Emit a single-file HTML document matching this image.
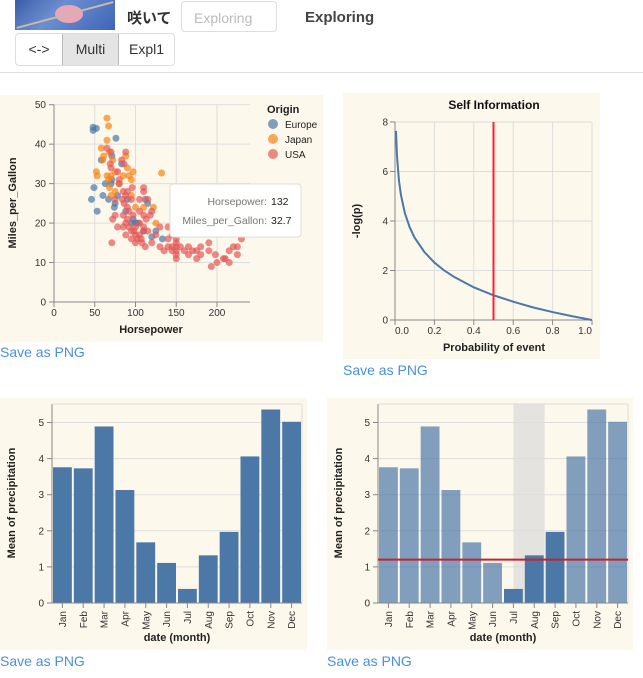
<!DOCTYPE html>
<html><head><meta charset="utf-8">
<style>
body{margin:0;width:643px;height:678px;overflow:hidden;background:#fff;font-family:"Liberation Sans","Noto Sans CJK JP",sans-serif;position:relative}
.abs{position:absolute}
.link{color:#4a90d9;font-size:14px}
svg text{font-family:"Liberation Sans",sans-serif}
</style></head><body>
<div class="abs" style="left:15px;top:0;width:100px;height:30px;background:linear-gradient(135deg,#3a5ca8,#6d8fd0 40%,#3f63b8);overflow:hidden">
<div style="position:absolute;left:40px;top:5px;width:28px;height:18px;border-radius:50%;background:#e8a6b8"></div>
<div style="position:absolute;left:0;top:14px;width:100px;height:2px;background:#c9b9a8;transform:rotate(-15deg)"></div></div>
<div class="abs" style="left:127px;top:7px;font-size:15px;font-weight:bold;color:#333">咲いて</div>
<div class="abs" style="left:181px;top:1px;width:96px;height:31px;border:1px solid #ddd;border-radius:4px;box-sizing:border-box;color:#bbb;font-size:14px;padding:8px 12px">Exploring</div>
<div class="abs" style="left:305px;top:9px;font-size:15px;font-weight:bold;color:#444">Exploring</div>
<div class="abs" style="left:15px;top:33px;width:160px;height:33px;border:1px solid #ddd;border-radius:4px;box-sizing:border-box;display:flex;font-size:14px;color:#333;overflow:hidden">
<div style="width:46px;text-align:center;line-height:31px">&lt;-&gt;</div>
<div style="width:55px;text-align:center;line-height:31px;background:#e4e4e4;border-left:1px solid #bbb;border-right:1px solid #bbb">Multi</div>
<div style="flex:1;text-align:center;line-height:31px">Expl1</div></div>
<div class="abs" style="left:0;top:72px;width:643px;height:1px;background:#ddd"></div>

<div class="abs link" style="left:0;top:344px">Save as PNG</div>
<div class="abs link" style="left:343px;top:362px">Save as PNG</div>
<div class="abs link" style="left:0;top:653px">Save as PNG</div>
<div class="abs link" style="left:327px;top:653px">Save as PNG</div>

<svg id="s" class="abs" style="left:0;top:0" width="643" height="678"></svg>
<script>
// ---- scatter data ----
const europe=[[46,26],[48,43.5],[48,44.3],[49,29],[52,44],[53,23],[58,36],[60,27],[67,26],[70,30],[71,31],[74,24],[76,41.5],[78,27],[83,35],[88,23],[90,26],[95,20],[97,21],[100,20],[103,20],[110,18],[112,26],[115,25],[120,16.5],[125,18],[133,16],[71,37],[63,30],[75,25]];
const japan=[[52,33],[53,32],[58,39],[60,36],[61,37],[65,46.6],[65,41],[67,44.6],[68,38],[70,32],[72,36],[75,33],[67,31],[68,29],[70,27],[88,37],[90,34],[92,32],[95,31],[97,33],[100,24],[110,24],[122,24],[132,32.7],[125,20],[85,32],[65,32],[75,28],[80,30],[95,27]];
const usa=[[65,39],[69,35],[70,34],[71,15],[72,21],[75,22],[78,19],[80,30],[85,28],[85,22],[88,20],[88,17],[90,28],[90,24],[92,19],[95,26],[95,18],[97,22],[100,17],[100,19],[100,15],[105,17],[105,20],[105,23],[107,16],[110,18],[110,19],[110,22],[112,14],[113,21],[115,18],[120,15],[125,17],[130,14],[130,19],[135,13],[140,14],[140,16],[145,13],[145,14],[145,17],[150,12],[150,13],[150,14],[150,15],[150,16],[150,11],[155,14],[160,13],[165,14],[165,12],[170,13],[175,13],[175,11],[180,12],[180,14],[190,13],[190,15],[193,9],[198,12],[200,10],[208,11],[210,11],[215,10],[215,13],[220,14],[225,12],[225,14],[230,16],[88,27],[96,29],[80,31],[84,26],[86,25],[75,26],[92,23],[98,18],[102,16],[108,15],[115,26],[118,22],[140,19],[85,19],[95,16],[90,21],[83,36],[86,35],[88,38],[70,38],[78,33],[110,28],[120,23],[110,29],[105,26]];
const hpTicks=[0,50,100,150,200];
const mpgTicks=[0,10,20,30,40,50];
// ---- self information ----
const probs=[0.005,0.01,0.02,0.03,0.05,0.075,0.1,0.15,0.2,0.25,0.3,0.4,0.5,0.6,0.7,0.8,0.9,1.0];
const info=[7.64,6.64,5.64,5.06,4.32,3.74,3.32,2.74,2.32,2,1.74,1.32,1,0.74,0.51,0.32,0.15,0];
const pTicks=[0,0.2,0.4,0.6,0.8,1.0];
const infoTicks=[0,2,4,6,8];
const markerP=0.5;
// ---- precipitation ----
const months=["Jan","Feb","Mar","Apr","May","Jun","Jul","Aug","Sep","Oct","Nov","Dec"];
const precip=[3.76,3.73,4.89,3.13,1.68,1.11,0.39,1.32,1.97,4.06,5.36,5.02];
const precipTicks=[0,1,2,3,4,5];
const selectedMonths=["Jul","Aug","Sep"];
const brushMonths=["Jul","Aug"];
const meanRule=1.2;

const NS="http://www.w3.org/2000/svg",S=document.getElementById('s');
function el(t,a,p){const e=document.createElementNS(NS,t);for(const k in a)e.setAttribute(k,a[k]);(p||S).appendChild(e);return e;}
function txt(s,a,p){const e=el('text',a,p);e.textContent=s;return e;}

// ===== scatter =====
const sx=v=>54+v*(217-54)/200, sy=v=>302-v*(302-104.7)/50;
let bg=el('rect',{x:0,y:95,width:323,height:247,fill:'#fdf8ec'});

mpgTicks.forEach(t=>{let l=el('line',{x1:54,x2:250,y1:sy(t),y2:sy(t),stroke:'#ddd'});

el('line',{x1:49,x2:54,y1:sy(t),y2:sy(t),stroke:'#888'});
let tl=txt(t,{x:46,y:sy(t)+3.5,'text-anchor':'end','font-size':10,fill:'#333'});
});
hpTicks.forEach(t=>{let l=el('line',{x1:sx(t),x2:sx(t),y1:104.7,y2:302,stroke:'#ddd'});

el('line',{x1:sx(t),x2:sx(t),y1:302,y2:307,stroke:'#888'});
let tl=txt(t,{x:sx(t),y:316,'text-anchor':'middle','font-size':10,fill:'#333'});
});
el('line',{x1:54,x2:54,y1:104.7,y2:302,stroke:'#888'});el('line',{x1:54,x2:250,y1:302,y2:302,stroke:'#888'});
[[europe,'#4c78a8'],[japan,'#f58518'],[usa,'#e45756']].forEach(([d,c])=>d.forEach(p=>{
let ci=el('circle',{cx:sx(p[0]),cy:sy(p[1]),r:3.5,fill:c,'fill-opacity':0.7});
}));
let t1=txt('Horsepower',{x:151,y:333,'text-anchor':'middle','font-size':11,'font-weight':'bold',fill:'#222'});

let t2=txt('Miles_per_Gallon',{x:0,y:0,transform:'translate(16,203) rotate(-90)','text-anchor':'middle','font-size':11,'font-weight':'bold',fill:'#222'});

let lt=txt('Origin',{x:267,y:113,'font-size':11,'font-weight':'bold',fill:'#222'});

[['Europe','#4c78a8'],['Japan','#f58518'],['USA','#e45756']].forEach((o,i)=>{
let c=el('circle',{cx:273,cy:124+i*15,r:5,fill:o[1],'fill-opacity':0.7});

let t=txt(o[0],{x:285,y:128+i*15,'font-size':10,fill:'#222'});
});
let tip=el('rect',{x:170,y:184,width:131,height:53,rx:3,fill:'#fff','fill-opacity':0.95,stroke:'#ddd'});

txt('Horsepower:',{x:267,y:205,'text-anchor':'end','font-size':10.5,fill:'#777'});
txt('132',{x:271,y:205,'font-size':10.5,fill:'#222'});
txt('Miles_per_Gallon:',{x:267,y:224,'text-anchor':'end','font-size':10.5,fill:'#777'});
txt('32.7',{x:271,y:224,'font-size':10.5,fill:'#222'});

// ===== self info =====
const px=v=>395+v*(592-395), py=v=>320-v*(320-122)/8;
bg=el('rect',{x:343,y:93,width:257,height:266,fill:'#fdf8ec'});

let st=txt('Self Information',{x:494,y:109,'text-anchor':'middle','font-size':12,'font-weight':'bold',fill:'#111'});

infoTicks.forEach(t=>{el('line',{x1:395,x2:592,y1:py(t),y2:py(t),stroke:'#ddd'});
el('line',{x1:390,x2:395,y1:py(t),y2:py(t),stroke:'#888'});
let tl=txt(t,{x:388,y:py(t)+3.5,'text-anchor':'end','font-size':10,fill:'#333'});
});
pTicks.forEach((t,i)=>{el('line',{x1:px(t),x2:px(t),y1:122,y2:320,stroke:'#ddd'});
el('line',{x1:px(t),x2:px(t),y1:320,y2:325,stroke:'#888'});
const anc=i===0?'start':(i===pTicks.length-1?'end':'middle');
let tl=txt(t.toFixed(1),{x:px(t),y:334,'text-anchor':anc,'font-size':10,fill:'#333'});
});
el('line',{x1:395,x2:395,y1:122,y2:320,stroke:'#888'});el('line',{x1:395,x2:592,y1:320,y2:320,stroke:'#888'});
let curve=el('path',{d:probs.map((p,i)=>(i?'L':'M')+px(p)+','+py(info[i])).join(''),fill:'none',stroke:'#4c78a8','stroke-width':2});

let rl=el('line',{x1:px(markerP),x2:px(markerP),y1:122,y2:320,stroke:'#ff2030','stroke-width':2});

let ax=txt('Probability of event',{x:494,y:351,'text-anchor':'middle','font-size':11,'font-weight':'bold',fill:'#222'});

let ay=txt('-log(p)',{x:0,y:0,transform:'translate(360,221) rotate(-90)','text-anchor':'middle','font-size':11,'font-weight':'bold',fill:'#222'});


// ===== bar charts =====
function bars(ox,x0,x1,highlight){
 const yb=v=>603-v*36.1, step=(x1-x0)/months.length;
 let b=el('rect',{x:ox,y:398,width:x1-ox+5,height:252,fill:'#fdf8ec'});
 
 if(highlight){const a=months.indexOf(brushMonths[0]),z=months.indexOf(brushMonths[brushMonths.length-1]);
  let br=el('rect',{x:x0+(a+0.5)*step,y:404,width:(z-a+0.5)*step,height:199,fill:'#ddd','fill-opacity':0.8});
  }
 precipTicks.forEach(t=>{el('line',{x1:x0,x2:x1,y1:yb(t),y2:yb(t),stroke:'#ddd'});
  el('line',{x1:x0-5,x2:x0,y1:yb(t),y2:yb(t),stroke:'#888'});
  let tl=txt(t,{x:x0-8,y:yb(t)+3.5,'text-anchor':'end','font-size':10,fill:'#333'});
  });
 el('line',{x1:x0,x2:x0,y1:404,y2:603,stroke:'#888'});el('line',{x1:x1,x2:x1,y1:404,y2:603,stroke:'#ddd'});
 el('line',{x1:x0,x2:x1,y1:404,y2:404,stroke:'#ddd'});
 months.forEach((m,i)=>{const sel=selectedMonths.includes(m);
  let r=el('rect',{x:x0+i*step+1,y:yb(precip[i]),width:step-2,height:precip[i]*36.1,fill:'#4c78a8','fill-opacity':(highlight&&!sel)?0.7:1});
  
  const cx=x0+(i+0.5)*step;
  el('line',{x1:cx,x2:cx,y1:603,y2:608,stroke:'#888'});
  let tl=txt(m,{x:0,y:0,transform:`translate(${cx+3.5},611) rotate(-90)`,'text-anchor':'end','font-size':10,fill:'#333'});
  });
 el('line',{x1:x0,x2:x1,y1:603,y2:603,stroke:'#888'});
 if(highlight){let ml=el('line',{x1:x0,x2:x1,y1:yb(meanRule),y2:yb(meanRule),stroke:'#c4232f','stroke-width':2});
  }
 let xt=txt('date (month)',{x:(x0+x1)/2,y:641,'text-anchor':'middle','font-size':11,'font-weight':'bold',fill:'#222'});
 
 let yt=txt('Mean of precipitation',{x:0,y:0,transform:`translate(${ox+15},503) rotate(-90)`,'text-anchor':'middle','font-size':11,'font-weight':'bold',fill:'#222'});
 
}
bars(0,52,302,false);
bars(327,378,628,true);
</script>
</body></html>
